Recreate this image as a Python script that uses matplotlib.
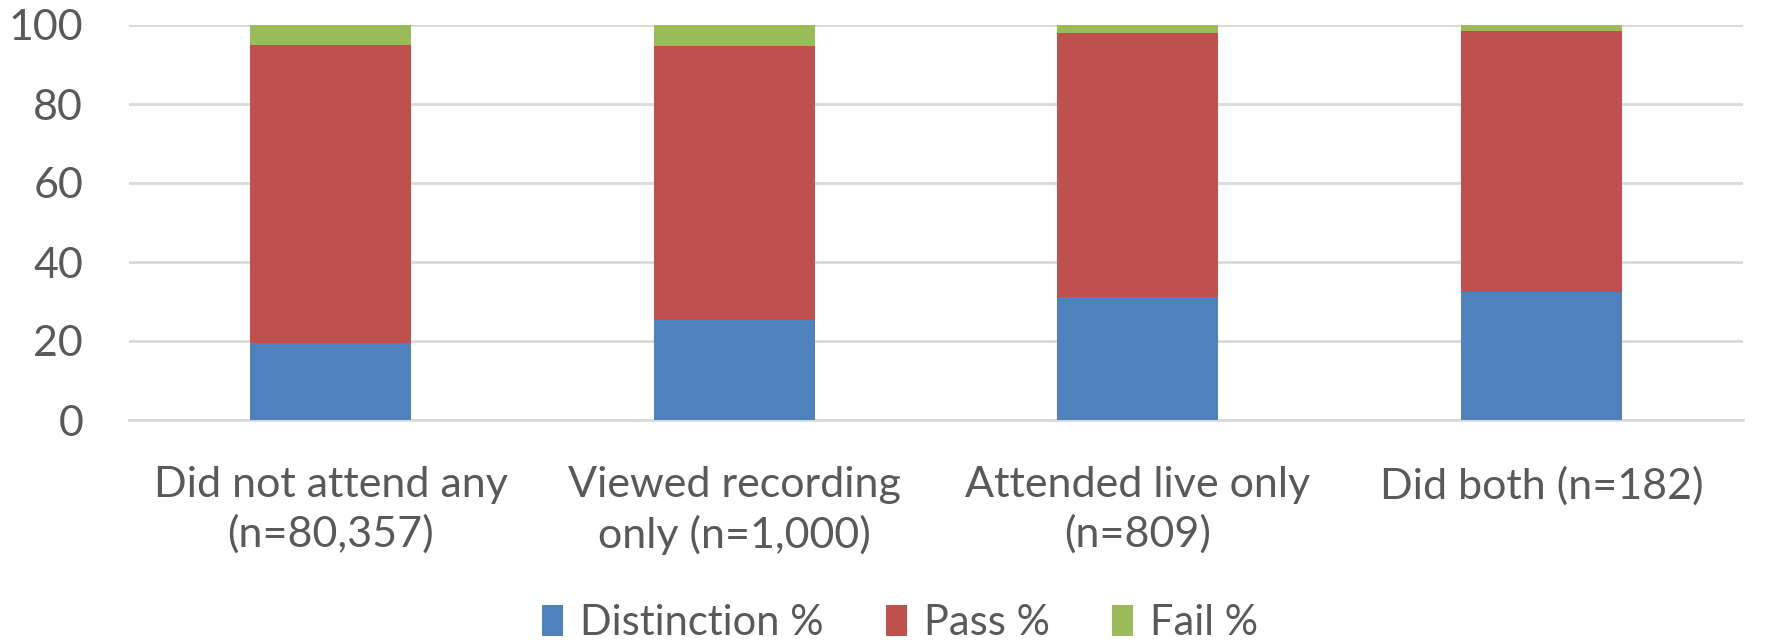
import matplotlib.pyplot as plt
import numpy as np

plt.rcParams['font.family'] = ['Lato', 'DejaVu Sans']

categories = ['Did not attend any\n(n=80,357)', 'Viewed recording\nonly (n=1,000)',
              'Attended live only\n(n=809)', 'Did both (n=182)']
distinction = [19.4, 25.2, 31.2, 32.4]
passed = [75.6, 69.5, 66.8, 66.2]
fail = [5.0, 5.3, 2.0, 1.4]

txt = '#595959'
fig = plt.figure(figsize=(17.66, 6.41), dpi=100)
ax = fig.add_axes([129/1766, 1 - 420/641, (1743-129)/1766, (420-25)/641])

x = np.arange(len(categories))
w = 0.4
ax.bar(x, distinction, w, color='#4F81BD', label='Distinction %', zorder=3)
ax.bar(x, passed, w, bottom=distinction, color='#C0504D', label='Pass %', zorder=3)
bot = np.array(distinction) + np.array(passed)
ax.bar(x, fail, w, bottom=bot, color='#9BBB59', label='Fail %', zorder=3)

ax.set_ylim(0, 100)
ax.set_xlim(-0.5, 3.5)
ax.set_yticks(range(0, 101, 20))
ax.yaxis.grid(True, color='#D9D9D9', linewidth=2, zorder=0)
ax.set_axisbelow(True)
for s in ['top', 'right', 'left']:
    ax.spines[s].set_visible(False)
ax.spines['bottom'].set_color('#D9D9D9')
ax.spines['bottom'].set_linewidth(2)
ax.tick_params(axis='both', length=0, labelsize=31, colors=txt)
ax.tick_params(axis='y', pad=33)
ax.tick_params(axis='x', pad=33)
ax.set_xticks(x)
ax.set_xticklabels(categories, linespacing=1.33)

ax.legend(loc='center', bbox_to_anchor=(900/1766, 1 - 623/641),
          bbox_transform=fig.transFigure, ncol=3, frameon=False,
          fontsize=30, labelcolor=txt, handlelength=0.5, handleheight=0.8,
          handletextpad=0.4, columnspacing=1.5)

fig.savefig('out.png', dpi=100)
